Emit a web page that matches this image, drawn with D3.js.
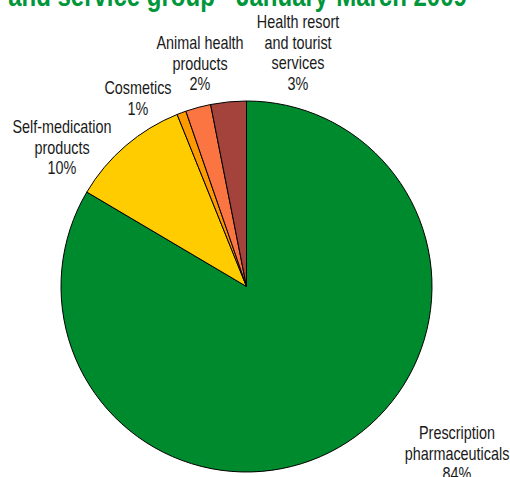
<!DOCTYPE html>
<html>
<head>
<meta charset="utf-8">
<script src="https://cdn.jsdelivr.net/npm/d3@7"></script>
<style>
  html, body { margin: 0; padding: 0; background: #fff; overflow: hidden; }
  svg { display: block; }
  text { font-family: "Liberation Sans", Arial, sans-serif; }
</style>
</head>
<body>
<svg id="chart" width="510" height="477"></svg>
<script>
// Turnover by product and service group, January-March 2009 (share, %)
const categories = [
  "Prescription pharmaceuticals",
  "Self-medication products",
  "Cosmetics",
  "Animal health products",
  "Health resort and tourist services"
];
const shares = [83.5, 10.4, 0.8, 2.2, 3.1];
const labelLines = [
  ["Prescription", "pharmaceuticals"],
  ["Self-medication", "products"],
  ["Cosmetics"],
  ["Animal health", "products"],
  ["Health resort", "and tourist", "services"]
];
const sliceColors = ["#008A2E", "#FFCC00", "#FF9900", "#FA7542", "#A3433B"];
const titleText = "and service group - January-March 2009";

const svg = d3.select("#chart");
const cx = 246.5, cy = 286.5, radius = 185.5;

// Title (second line of a two-line heading; the first line sits above the frame)
svg.append("text")
  .attr("transform", "translate(237.5,6) scale(0.8,1)")
  .attr("text-anchor", "middle")
  .attr("font-size", 30)
  .attr("font-weight", "bold")
  .attr("fill", "#00963A")
  .text(titleText);

const data = categories.map((c, i) => ({ name: c, value: shares[i], lines: labelLines[i], color: sliceColors[i] }));

const pie = d3.pie().sort(null).value(d => d.value).startAngle(0).endAngle(2 * Math.PI);
const arc = d3.arc().innerRadius(0).outerRadius(radius);

const g = svg.append("g").attr("transform", `translate(${cx},${cy})`);
g.selectAll("path")
  .data(pie(data))
  .join("path")
  .attr("d", arc)
  .attr("fill", d => d.data.color)
  .attr("stroke", "#000")
  .attr("stroke-width", 1)
  .attr("stroke-linejoin", "round");

// Label anchors: centre x and baseline of first line
const labelPos = {
  "Prescription pharmaceuticals": [457, 439],
  "Self-medication products": [62, 133],
  "Cosmetics": [138, 94],
  "Animal health products": [200, 49],
  "Health resort and tourist services": [298, 28]
};
const lineGap = 20.5;
const pct = d3.format(".0f");

data.forEach(d => {
  const [lx, ly] = labelPos[d.name];
  const lines = d.lines.concat([pct(d.value) + "%"]);
  const t = svg.append("g").attr("transform", `translate(${lx},${ly})`);
  lines.forEach((s, i) => {
    t.append("text")
      .attr("transform", `translate(0,${i * lineGap}) scale(0.8,1)`)
      .attr("text-anchor", "middle")
      .attr("font-size", 18)
      .attr("fill", "#1a1a1a")
      .text(s);
  });
});
</script>
</body>
</html>
